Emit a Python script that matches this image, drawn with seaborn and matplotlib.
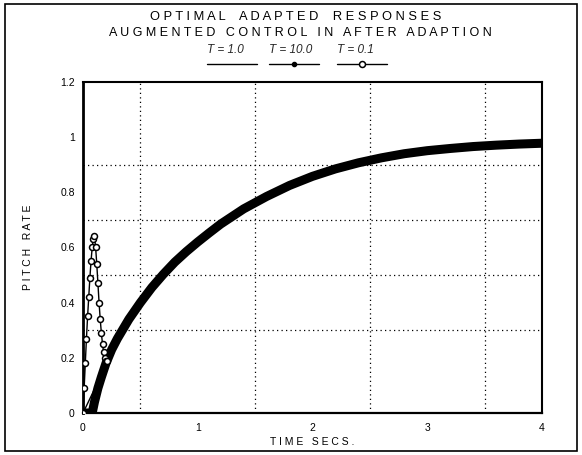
import matplotlib
matplotlib.use("Agg")
import matplotlib.pyplot as plt
from matplotlib.lines import Line2D
from matplotlib.patches import Rectangle
import pandas as pd
import seaborn as sns

# ---------------- data ----------------
# T=10.0 : main (thick, densely marked) response
t_main = [0.0, 0.08, 0.10, 0.13, 0.16, 0.20, 0.25, 0.30, 0.40, 0.50, 0.60, 0.70,
          0.80, 0.90, 1.00, 1.10, 1.20, 1.40, 1.60, 1.80, 2.00, 2.20, 2.40, 2.60,
          2.80, 3.00, 3.20, 3.40, 3.60, 3.80, 4.00]
v_main = [0.0, 0.0, 0.04, 0.09, 0.13, 0.18, 0.23, 0.27, 0.34, 0.40, 0.455, 0.503,
          0.547, 0.585, 0.62, 0.653, 0.685, 0.74, 0.785, 0.825, 0.858, 0.885,
          0.907, 0.925, 0.94, 0.951, 0.959, 0.966, 0.971, 0.975, 0.978]

# T=1.0 : thin line, leaves the origin and joins the main curve
t_t1 = [0.0, 0.22, 0.30, 0.40, 0.50, 0.60, 0.70, 0.80, 0.90, 1.00, 1.10, 1.20,
        1.40, 1.60, 1.80, 2.00, 2.20, 2.40, 2.60, 2.80, 3.00, 3.20, 3.40, 3.60,
        3.80, 4.00]
v_t1 = [0.0, 0.19, 0.27, 0.34, 0.40, 0.455, 0.503, 0.547, 0.585, 0.62, 0.653,
        0.685, 0.74, 0.785, 0.825, 0.858, 0.885, 0.907, 0.925, 0.94, 0.951,
        0.959, 0.966, 0.971, 0.975, 0.978]

# T=0.1 : fast overshooting spike (open circles)
t_t01 = [0.00, 0.01, 0.02, 0.03, 0.04, 0.05, 0.06, 0.07, 0.08, 0.09, 0.10,
         0.11, 0.12, 0.13, 0.14, 0.15, 0.16, 0.17, 0.18, 0.19, 0.20, 0.21]
v_t01 = [0.00, 0.09, 0.18, 0.27, 0.35, 0.42, 0.49, 0.55, 0.60, 0.63, 0.64,
         0.60, 0.54, 0.47, 0.40, 0.34, 0.29, 0.25, 0.22, 0.20, 0.19, 0.19]

series_labels = ["T = 1.0", "T = 10.0", "T = 0.1"]
x_ticks = [0, 1, 2, 3, 4]
x_grid = [0.5, 1.0, 1.5, 2.0, 2.5, 3.0, 3.5]
y_ticks = [0, 0.2, 0.4, 0.6, 0.8, 1.0, 1.2]
y_tick_labels = ["0", "0.2", "0.4", "0.6", "0.8", "1", "1.2"]
y_grid = [0.2, 0.3, 0.5, 0.6, 0.7, 0.9, 1.0]

# ---------------- style ----------------
sns.set_theme(style="white")
plt.rcParams["font.family"] = ["Liberation Sans", "DejaVu Sans"]

W, H = 582, 455
fig = plt.figure(figsize=(W / 100, H / 100), dpi=100)
fig.patch.set_facecolor("white")
ax = fig.add_axes([83 / W, 1 - 413 / H, (542 - 83) / W, (413 - 82) / H])
ax.set_facecolor("white")

df_main = pd.DataFrame({"t": t_main, "v": v_main})
df_t1 = pd.DataFrame({"t": t_t1, "v": v_t1})
df_t01 = pd.DataFrame({"t": t_t01, "v": v_t01})

sns.lineplot(data=df_main, x="t", y="v", ax=ax, color="black", linewidth=6.5,
             sort=False, estimator=None, solid_capstyle="round",
             solid_joinstyle="round", zorder=3)
sns.lineplot(data=df_t1, x="t", y="v", ax=ax, color="black", linewidth=1.0,
             sort=False, estimator=None, zorder=4)
sns.lineplot(data=df_t01, x="t", y="v", ax=ax, color="black", linewidth=1.0,
             marker="o", markersize=4.3, markerfacecolor="white",
             markeredgecolor="black", markeredgewidth=1.1,
             sort=False, estimator=None, zorder=5)

ax.set_xlim(0, 4)
ax.set_ylim(0, 1.2)
ax.set_xticks(x_ticks)
ax.set_xticklabels([str(v) for v in x_ticks])
ax.set_xticks(x_grid, minor=True)
ax.set_yticks(y_ticks)
ax.set_yticklabels(y_tick_labels)
ax.set_yticks(y_grid, minor=True)

dot = (0, (1, 2.6))
ax.grid(False)
ax.xaxis.grid(True, which="minor", color="black", linestyle=dot, linewidth=0.9)
ax.yaxis.grid(True, which="minor", color="black", linestyle=dot, linewidth=0.9)
ax.set_axisbelow(True)

ax.tick_params(axis="both", which="both", length=0, labelsize=7.5, colors="black")
ax.tick_params(axis="x", pad=7)
ax.tick_params(axis="y", pad=6)

for side, lw in [("left", 2.0), ("bottom", 1.6), ("top", 1.5), ("right", 1.5)]:
    ax.spines[side].set_visible(True)
    ax.spines[side].set_color("black")
    ax.spines[side].set_linewidth(lw)

ax.set_xlabel("T I M E   S E C S .", fontsize=7.5, color="black")
ax.xaxis.set_label_coords(0.5, (413 - 437) / 331)
ax.set_ylabel("P I T C H   R A T E", fontsize=7.5, color="black")
ax.yaxis.set_label_coords((33 - 83) / 459, 0.5)

# titles
fig.text(296 / W, 1 - 17 / H, "O P T I M A L    A D A P T E D    R E S P O N S E S",
         ha="center", va="center", fontsize=9.3, color="black")
fig.text(300 / W, 1 - 33 / H,
         "A U G M E N T E D   C O N T R O L   I N   A F T E R   A D A P T I O N",
         ha="center", va="center", fontsize=9.0, color="black")

# legend: each label sits above its line sample
fs_leg = 8.5
h1 = Line2D([], [], color="black", linewidth=1.0)
h2 = Line2D([], [], color="black", linewidth=1.0, marker="o", markersize=3,
            markerfacecolor="black", markeredgecolor="black")
h3 = Line2D([], [], color="black", linewidth=1.0, marker="o", markersize=4.3,
            markerfacecolor="white", markeredgecolor="black", markeredgewidth=1.1)
handle_px = 50
fs_px = fs_leg * 100 / 72
leg = fig.legend([h1, h2, h3], series_labels, ncol=3, loc="center left",
                 bbox_to_anchor=(207 / W, 1 - 65 / H), frameon=False,
                 handlelength=handle_px / fs_px, handletextpad=0,
                 columnspacing=-25 / fs_px, borderpad=0, borderaxespad=0,
                 numpoints=1, prop={"size": fs_leg, "style": "italic"})
for txt in leg.get_texts():
    txt.set_position((-handle_px, 15))

# outer frame
fig.add_artist(Rectangle((5 / W, 1 - 451 / H), (577 - 5) / W, (451 - 4) / H,
                         transform=fig.transFigure, fill=False,
                         edgecolor="black", linewidth=1.2))

fig.savefig("out.png", dpi=100, facecolor="white")
